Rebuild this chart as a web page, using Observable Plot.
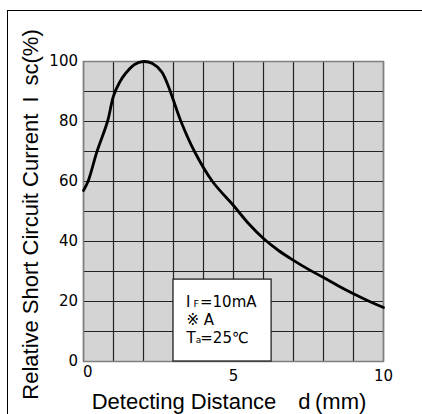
<!DOCTYPE html>
<html><head><meta charset="utf-8">
<script src="https://cdn.jsdelivr.net/npm/d3@7"></script>
<script src="https://cdn.jsdelivr.net/npm/@observablehq/plot@0.6"></script>
<style>
html,body{margin:0;padding:0;background:#fff;overflow:hidden}
#wrap{position:relative;width:422px;height:414px;overflow:hidden}
#wrap svg{position:absolute;left:0;top:0}
#edge{position:absolute;left:6.5px;top:9.5px;width:440px;height:440px;border-top:1.5px solid #000;border-left:1.5px solid #000;pointer-events:none}
</style></head><body>
<div id="wrap"><div id="edge"></div></div>
<script>
// Data
const distance = [0, 0.15, 0.45, 0.8, 1.0, 1.2, 1.4, 1.7, 2.0, 2.3, 2.6, 2.8, 3.0, 3.25, 3.7, 4.3, 5.0, 5.5, 6.0, 6.5, 7.0, 7.5, 8.0, 8.5, 9.0, 9.5, 10];
const current  = [57, 60, 70, 80, 88.5, 93, 96, 99, 100, 99.3, 96.6, 92.5, 87, 80, 70, 60, 52, 46, 41, 37, 33.7, 30.7, 28, 25.2, 22.6, 20.2, 18];

const xTicks = [0, 5, 10];
const yTicks = [0, 20, 40, 60, 80, 100];
const xGrid = [0, 1, 2, 3, 4, 5, 6, 7, 8, 9, 10];
const yGrid = [0, 10, 20, 30, 40, 50, 60, 70, 80, 90, 100];

const xLabel = "Detecting Distance\u3000d\u2009(mm)";
const yLabel = "Relative Short Circuit Current\u2002I\u2002sc(%)";

// Condition note box (data units)
const noteBox = [{x1: 3, x2: 6.27, y1: 0, y2: 27.3}];
const noteRowY = [18.1, 12.3, 6.3];

const labelFont = "'Liberation Sans', 'Noto Sans CJK JP', sans-serif";
const numFont = "'DejaVu Sans', 'Noto Sans CJK JP', sans-serif";

const note = (txt, y, dx, size) => Plot.text([txt], {
  x: () => noteBox[0].x1, y: () => y, text: d => d,
  textAnchor: "start", lineAnchor: "bottom", dx, fontSize: size,
  fontFamily: numFont, fill: "#000"
});

const chart = Plot.plot({
  width: 422,
  height: 414,
  marginLeft: 83,
  marginRight: 39,
  marginTop: 61,
  marginBottom: 53,
  style: {background: "transparent", fontFamily: labelFont, color: "#000"},
  x: {domain: [0, 10], axis: null},
  y: {domain: [0, 100], axis: null},
  marks: [
    Plot.frame({fill: "#d4d4d4"}),
    Plot.ruleX(xGrid, {stroke: "#222", strokeWidth: 1.2}),
    Plot.ruleY(yGrid, {stroke: "#222", strokeWidth: 1.2}),
    Plot.frame({stroke: "#808080", strokeWidth: 1.5}),
    Plot.rect(noteBox, {x1: "x1", x2: "x2", y1: "y1", y2: "y2", fill: "#fff", stroke: "#222", strokeWidth: 1.3}),
    Plot.line(current, {x: distance, y: current, curve: "catmull-rom", stroke: "#000", strokeWidth: 2.8}),
    // y tick labels
    Plot.text(yTicks, {y: d => d, text: d => String(d), frameAnchor: "left", textAnchor: "end", lineAnchor: "middle", dx: -5.5, fontSize: 15, fontFamily: numFont, fill: "#000"}),
    // x tick labels
    Plot.text(xTicks.filter(d => d > 0), {x: d => d, text: d => String(d), frameAnchor: "bottom", textAnchor: "middle", lineAnchor: "middle", dy: 15, fontSize: 15, fontFamily: numFont, fill: "#000"}),
    Plot.text(xTicks.filter(d => d === 0), {x: d => d, text: d => String(d), frameAnchor: "bottom", textAnchor: "start", lineAnchor: "middle", dy: 10.5, dx: -0.5, fontSize: 15, fontFamily: numFont, fill: "#000"}),
    // axis titles
    Plot.text([xLabel], {text: d => d, frameAnchor: "bottom", textAnchor: "middle", lineAnchor: "bottom", dy: 47, dx: -4.5, fontSize: 22, fontFamily: labelFont, fill: "#000"}),
    Plot.text([yLabel], {text: d => d, frameAnchor: "left", textAnchor: "middle", rotate: -90, lineAnchor: "bottom", dx: -46, dy: 3, fontSize: 22, fontFamily: labelFont, fill: "#000"}),
    // note text
    note("I", noteRowY[0], 12.5, 15),
    note("F", noteRowY[0], 20, 9.5),
    note("=10mA", noteRowY[0], 26.5, 15),
    note("\u203B A", noteRowY[1], 13, 15),
    note("T", noteRowY[2], 13, 15),
    note("a", noteRowY[2], 22.3, 9),
    note("=25\u2103", noteRowY[2], 26.8, 15)
  ]
});
document.getElementById("wrap").prepend(chart);
</script>
</body></html>
